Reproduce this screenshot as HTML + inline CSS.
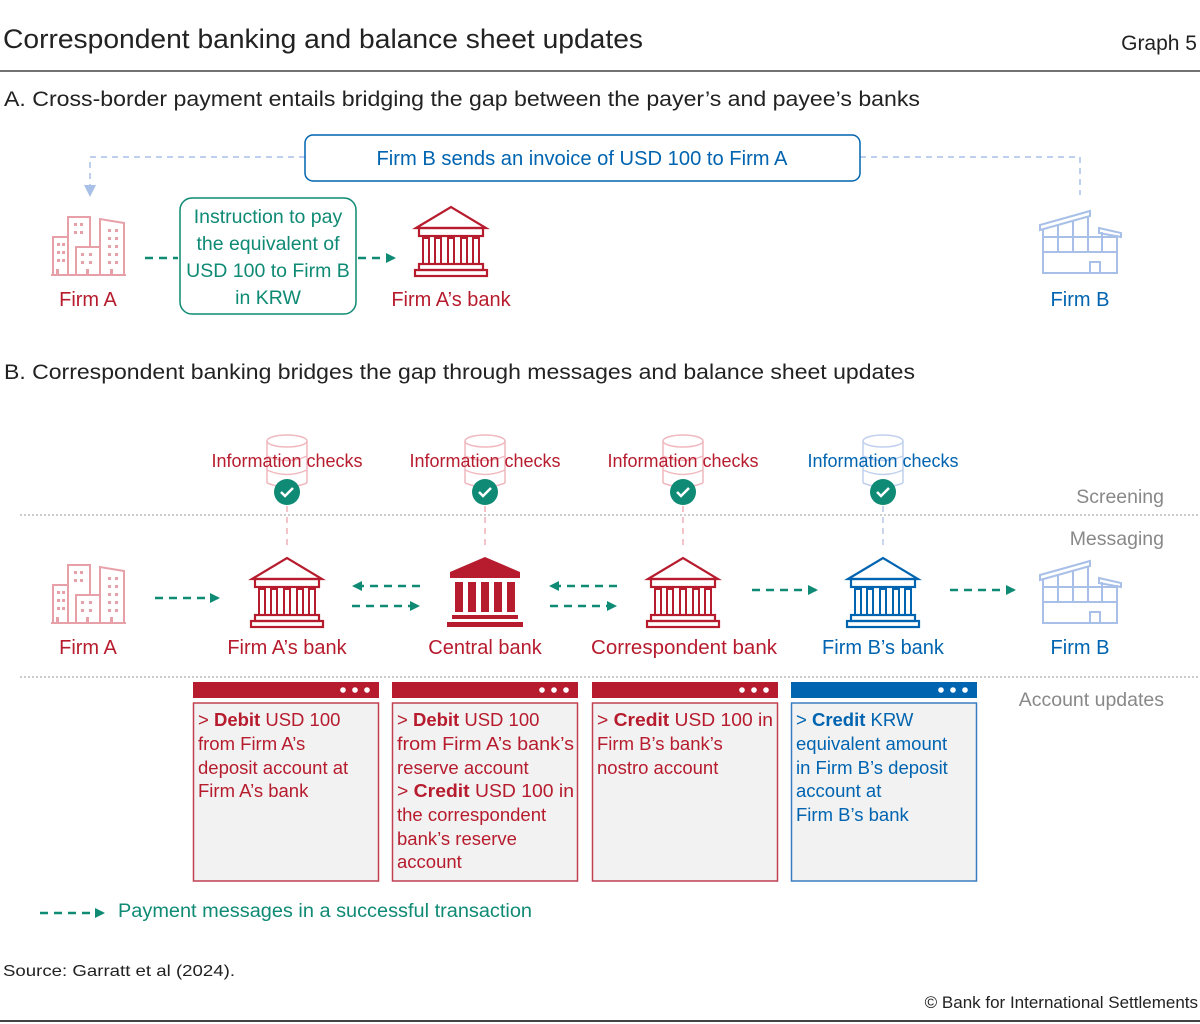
<!DOCTYPE html>
<html><head><meta charset="utf-8"><style>
html,body{margin:0;padding:0;background:#fff;}
svg{display:block;font-family:"Liberation Sans",sans-serif;}
</style></head><body>
<svg width="1200" height="1024" viewBox="0 0 1200 1024" xmlns="http://www.w3.org/2000/svg">
<defs>
<marker id="ah" viewBox="0 0 10 10" refX="8" refY="5" markerWidth="4" markerHeight="4" orient="auto"><path d="M0,0 L10,5 L0,10 z" fill="#0f8a74"/></marker>
<symbol id="bank" overflow="visible">
 <path d="M-35,22 L0,1 L35,22 Z" stroke-width="2.2"/>
 <rect x="-32" y="22" width="64" height="8" stroke-width="2.2"/>
 <rect x="-28" y="32" width="6" height="26" stroke-width="2"/>
 <rect x="-16" y="32" width="6" height="26" stroke-width="2"/>
 <rect x="-3" y="32" width="6" height="26" stroke-width="2"/>
 <rect x="10" y="32" width="6" height="26" stroke-width="2"/>
 <rect x="22" y="32" width="6" height="26" stroke-width="2"/>
 <rect x="-32" y="58" width="64" height="6" stroke-width="2.2"/>
 <rect x="-36" y="64" width="72" height="6" stroke-width="2.2"/>
</symbol>
<symbol id="firma" overflow="visible">
 <g stroke="#e8a0a8" stroke-width="2" fill="none">
 <path d="M-35,60 L-35,22 L-20,22 L-20,2 L2,2 L2,32"/>
 <path d="M-20,22 L-20,60"/>
 <path d="M-12,60 L-12,32 L12,32 L12,60"/>
 <path d="M12,32 L12,4 L36,8 L36,60"/>
 <path d="M-37,60 L38,60"/>
 </g>
 <g fill="#e8a0a8">
 <rect x="-31" y="28" width="3" height="3"/><rect x="-26" y="28" width="3" height="3"/>
 <rect x="-31" y="36" width="3" height="3"/><rect x="-26" y="36" width="3" height="3"/>
 <rect x="-31" y="44" width="3" height="3"/><rect x="-26" y="44" width="3" height="3"/>
 <rect x="-14" y="8" width="3" height="3"/><rect x="-8" y="8" width="3" height="3"/>
 <rect x="-14" y="16" width="3" height="3"/><rect x="-8" y="16" width="3" height="3"/>
 <rect x="-7" y="38" width="3" height="3"/><rect x="1" y="38" width="3" height="3"/>
 <rect x="-7" y="46" width="3" height="3"/><rect x="1" y="46" width="3" height="3"/>
 <rect x="20" y="14" width="3" height="3"/><rect x="27" y="14" width="3" height="3"/>
 <rect x="20" y="22" width="3" height="3"/><rect x="27" y="22" width="3" height="3"/>
 <rect x="20" y="30" width="3" height="3"/><rect x="27" y="30" width="3" height="3"/>
 <rect x="20" y="38" width="3" height="3"/><rect x="27" y="38" width="3" height="3"/>
 <rect x="20" y="46" width="3" height="3"/><rect x="27" y="46" width="3" height="3"/>
 <rect x="-32" y="54" width="3" height="6"/><rect x="-2" y="54" width="3" height="6"/><rect x="22" y="54" width="3" height="6"/>
 </g>
</symbol>
<symbol id="firmb" overflow="visible">
 <g stroke="#a8c0e8" stroke-width="2" fill="none">
 <path d="M-40,17 L10,3 L10,8 L-40,22 Z"/>
 <path d="M-37,21 L-37,65 L37,65 L37,27"/>
 <path d="M19,20 L41,25 L41,29 L19,25 Z"/>
 <path d="M-37,29 L37,29 M-37,44 L37,44 M-22,17 L-22,44 M-7,13 L-7,44 M8,8 L8,44 M22,24 L22,44"/>
 <rect x="10" y="54" width="10" height="11"/>
 </g>
</symbol>
<symbol id="db" overflow="visible">
 <g fill="none" stroke-width="1.5">
 <ellipse cx="0" cy="6" rx="20" ry="6"/>
 <path d="M-20,6 L-20,48 M20,6 L20,48 M-20,21 Q0,30 20,21 M-20,35 Q0,44 20,35 M-20,48 Q0,56 20,48"/>
 </g>
</symbol>
<symbol id="chk" overflow="visible">
 <circle r="13" fill="#0f8a74"/>
 <path d="M-6,0 L-2,4 L6,-4" stroke="#fff" stroke-width="2.5" fill="none"/>
</symbol>
</defs>

<!-- header -->
<text x="3" y="48" font-size="27" fill="#222" textLength="640" lengthAdjust="spacingAndGlyphs">Correspondent banking and balance sheet updates</text>
<text x="1197" y="50" font-size="21" fill="#222" text-anchor="end">Graph 5</text>
<line x1="0" y1="71" x2="1200" y2="71" stroke="#444" stroke-width="1.5"/>
<text x="4" y="106" font-size="21" fill="#222" textLength="916" lengthAdjust="spacingAndGlyphs">A. Cross-border payment entails bridging the gap between the payer’s and payee’s banks</text>

<!-- Section A -->
<path d="M305,157 L90,157 L90,186" stroke="#a8c0e8" stroke-width="1.5" stroke-dasharray="6,5" fill="none"/>
<path d="M84,185 L96,185 L90,197 Z" fill="#a8c0e8"/>
<path d="M860,157 L1080,157 L1080,195" stroke="#a8c0e8" stroke-width="1.5" stroke-dasharray="6,5" fill="none"/>
<rect x="305" y="135" width="555" height="46" rx="8" fill="#fff" stroke="#0064b0" stroke-width="1.5"/>
<text x="582" y="165" font-size="20" fill="#0064b0" text-anchor="middle" textLength="411" lengthAdjust="spacingAndGlyphs">Firm B sends an invoice of USD 100 to Firm A</text>

<use href="#firma" x="88" y="215"/>
<text x="88" y="306" font-size="20" fill="#b71c2e" text-anchor="middle">Firm A</text>
<line x1="145" y1="258" x2="178" y2="258" stroke="#0f8a74" stroke-width="2.5" stroke-dasharray="8,6"/>
<rect x="180" y="198" width="176" height="116" rx="12" fill="#fff" stroke="#0f8a74" stroke-width="1.5"/>
<g font-size="19.5" fill="#0f8a74" text-anchor="middle">
<text x="268" y="223">Instruction to pay</text>
<text x="268" y="250">the equivalent of</text>
<text x="268" y="277">USD 100 to Firm B</text>
<text x="268" y="304">in KRW</text>
</g>
<line x1="358" y1="258" x2="394" y2="258" stroke="#0f8a74" stroke-width="2.5" stroke-dasharray="8,6" marker-end="url(#ah)"/>
<use href="#bank" x="451" y="206" fill="none" stroke="#b71c2e"/>
<text x="451" y="306" font-size="20" fill="#b71c2e" text-anchor="middle">Firm A’s bank</text>
<use href="#firmb" x="1080" y="208"/>
<text x="1080" y="306" font-size="20" fill="#0064b0" text-anchor="middle">Firm B</text>

<!-- Section B -->
<text x="4" y="379" font-size="21" fill="#222" textLength="911" lengthAdjust="spacingAndGlyphs">B. Correspondent banking bridges the gap through messages and balance sheet updates</text>

<g stroke="#f0b8bf"><use href="#db" x="287" y="435"/><use href="#db" x="485" y="435"/><use href="#db" x="683" y="435"/></g>
<use href="#db" x="883" y="435" stroke="#c0d0ee"/>
<g font-size="18" text-anchor="middle">
<text x="287" y="467" fill="#b71c2e">Information checks</text>
<text x="485" y="467" fill="#b71c2e">Information checks</text>
<text x="683" y="467" fill="#b71c2e">Information checks</text>
<text x="883" y="467" fill="#0064b0">Information checks</text>
</g>
<use href="#chk" x="287" y="492"/><use href="#chk" x="485" y="492"/><use href="#chk" x="683" y="492"/><use href="#chk" x="883" y="492"/>
<g stroke="#f0b0b8" stroke-width="1.5" stroke-dasharray="6,5">
<line x1="287" y1="506" x2="287" y2="550"/><line x1="485" y1="506" x2="485" y2="550"/><line x1="683" y1="506" x2="683" y2="550"/>
</g>
<line x1="883" y1="506" x2="883" y2="550" stroke="#b8c8e8" stroke-width="1.5" stroke-dasharray="6,5"/>

<line x1="20" y1="515" x2="1200" y2="515" stroke="#ccc" stroke-width="2" stroke-dasharray="2,2"/>
<line x1="20" y1="677" x2="1200" y2="677" stroke="#ccc" stroke-width="2" stroke-dasharray="2,2"/>
<g font-size="19.5" fill="#888" text-anchor="end">
<text x="1164" y="503">Screening</text>
<text x="1164" y="545">Messaging</text>
<text x="1164" y="706">Account updates</text>
</g>

<use href="#firma" x="88" y="563"/>
<use href="#bank" x="287" y="557" fill="none" stroke="#b71c2e"/>
<g fill="#b71c2e">
<path d="M450,572 L485,557 L520,572 Z"/>
<rect x="450" y="572" width="70" height="6"/>
<rect x="455" y="582" width="8" height="30"/><rect x="468" y="582" width="8" height="30"/><rect x="481" y="582" width="8" height="30"/><rect x="494" y="582" width="8" height="30"/><rect x="507" y="582" width="8" height="30"/>
<rect x="452" y="615" width="66" height="4"/><rect x="447" y="622" width="76" height="5"/>
</g>
<use href="#bank" x="683" y="557" fill="none" stroke="#b71c2e"/>
<use href="#bank" x="883" y="557" fill="none" stroke="#0064b0"/>
<use href="#firmb" x="1080" y="558"/>

<g font-size="20" text-anchor="middle">
<text x="88" y="654" fill="#b71c2e">Firm A</text>
<text x="287" y="654" fill="#b71c2e">Firm A’s bank</text>
<text x="485" y="654" fill="#b71c2e">Central bank</text>
<text x="684" y="654" fill="#b71c2e" textLength="186" lengthAdjust="spacingAndGlyphs">Correspondent bank</text>
<text x="883" y="654" fill="#0064b0">Firm B’s bank</text>
<text x="1080" y="654" fill="#0064b0">Firm B</text>
</g>

<g stroke="#0f8a74" stroke-width="2.5" stroke-dasharray="8,6" marker-end="url(#ah)">
<line x1="155" y1="598" x2="218" y2="598"/>
<line x1="420" y1="586" x2="354" y2="586"/>
<line x1="352" y1="606" x2="418" y2="606"/>
<line x1="617" y1="586" x2="551" y2="586"/>
<line x1="550" y1="606" x2="615" y2="606"/>
<line x1="752" y1="590" x2="816" y2="590"/>
<line x1="950" y1="590" x2="1014" y2="590"/>
<line x1="40" y1="913" x2="103" y2="913"/>
</g>
<text x="118" y="917" font-size="19" fill="#0f8a74" textLength="414" lengthAdjust="spacingAndGlyphs">Payment messages in a successful transaction</text>

<!-- account boxes -->
<g>
<rect x="193" y="682" width="186" height="16" fill="#b71c2e"/>
<rect x="193.5" y="703" width="185" height="178" fill="#f2f2f2" stroke="#c04050" stroke-width="1.5"/>
<rect x="392" y="682" width="186" height="16" fill="#b71c2e"/>
<rect x="392.5" y="703" width="185" height="178" fill="#f2f2f2" stroke="#c04050" stroke-width="1.5"/>
<rect x="592" y="682" width="186" height="16" fill="#b71c2e"/>
<rect x="592.5" y="703" width="185" height="178" fill="#f2f2f2" stroke="#c04050" stroke-width="1.5"/>
<rect x="791" y="682" width="186" height="16" fill="#0064b0"/>
<rect x="791.5" y="703" width="185" height="178" fill="#f2f2f2" stroke="#3a7cc0" stroke-width="1.5"/>
</g>
<g fill="#fff">
<circle cx="343" cy="690" r="2.8"/><circle cx="355" cy="690" r="2.8"/><circle cx="367" cy="690" r="2.8"/>
<circle cx="542" cy="690" r="2.8"/><circle cx="554" cy="690" r="2.8"/><circle cx="566" cy="690" r="2.8"/>
<circle cx="742" cy="690" r="2.8"/><circle cx="754" cy="690" r="2.8"/><circle cx="766" cy="690" r="2.8"/>
<circle cx="941" cy="690" r="2.8"/><circle cx="953" cy="690" r="2.8"/><circle cx="965" cy="690" r="2.8"/>
</g>
<g font-size="18.5" fill="#b71c2e">
<text x="198" y="726">&gt; <tspan font-weight="bold">Debit</tspan> USD 100</text>
<text x="198" y="750">from Firm A’s</text>
<text x="198" y="774">deposit account at</text>
<text x="198" y="797">Firm A’s bank</text>
<text x="397" y="726">&gt; <tspan font-weight="bold">Debit</tspan> USD 100</text>
<text x="397" y="750" textLength="177" lengthAdjust="spacingAndGlyphs">from Firm A’s bank’s</text>
<text x="397" y="774">reserve account</text>
<text x="397" y="797" textLength="177" lengthAdjust="spacingAndGlyphs">&gt; <tspan font-weight="bold">Credit</tspan> USD 100 in</text>
<text x="397" y="821">the correspondent</text>
<text x="397" y="845">bank’s reserve</text>
<text x="397" y="868">account</text>
<text x="597" y="726" textLength="176" lengthAdjust="spacingAndGlyphs">&gt; <tspan font-weight="bold">Credit</tspan> USD 100 in</text>
<text x="597" y="750">Firm B’s bank’s</text>
<text x="597" y="774">nostro account</text>
</g>
<g font-size="18.5" fill="#0064b0">
<text x="796" y="726">&gt; <tspan font-weight="bold">Credit</tspan> KRW</text>
<text x="796" y="750">equivalent amount</text>
<text x="796" y="774">in Firm B’s deposit</text>
<text x="796" y="797">account at</text>
<text x="796" y="821">Firm B’s bank</text>
</g>

<text x="3" y="976" font-size="16" fill="#222" textLength="232" lengthAdjust="spacingAndGlyphs">Source: Garratt et al (2024).</text>
<text x="1198" y="1008" font-size="17" fill="#222" text-anchor="end">© Bank for International Settlements</text>
<line x1="0" y1="1021" x2="1200" y2="1021" stroke="#444" stroke-width="2"/>
</svg>
</body></html>
